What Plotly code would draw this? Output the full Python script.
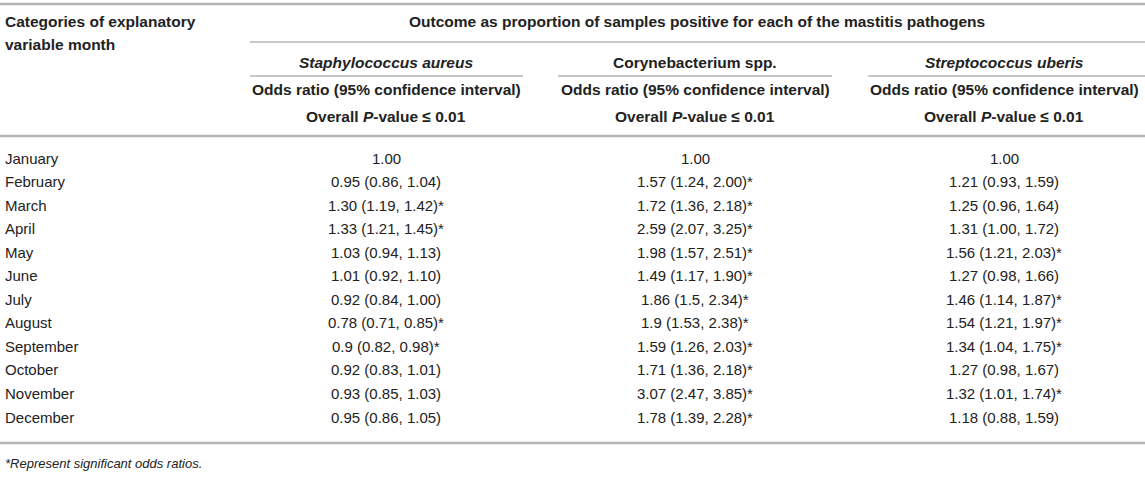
import plotly.graph_objects as go

months = ["January", "February", "March", "April", "May", "June", "July",
          "August", "September", "October", "November", "December"]
staph = ["1.00", "0.95 (0.86, 1.04)", "1.30 (1.19, 1.42)*", "1.33 (1.21, 1.45)*",
         "1.03 (0.94, 1.13)", "1.01 (0.92, 1.10)", "0.92 (0.84, 1.00)",
         "0.78 (0.71, 0.85)*", "0.9 (0.82, 0.98)*", "0.92 (0.83, 1.01)",
         "0.93 (0.85, 1.03)", "0.95 (0.86, 1.05)"]
coryne = ["1.00", "1.57 (1.24, 2.00)*", "1.72 (1.36, 2.18)*", "2.59 (2.07, 3.25)*",
          "1.98 (1.57, 2.51)*", "1.49 (1.17, 1.90)*", "1.86 (1.5, 2.34)*",
          "1.9 (1.53, 2.38)*", "1.59 (1.26, 2.03)*", "1.71 (1.36, 2.18)*",
          "3.07 (2.47, 3.85)*", "1.78 (1.39, 2.28)*"]
strep = ["1.00", "1.21 (0.93, 1.59)", "1.25 (0.96, 1.64)", "1.31 (1.00, 1.72)",
         "1.56 (1.21, 2.03)*", "1.27 (0.98, 1.66)", "1.46 (1.14, 1.87)*",
         "1.54 (1.21, 1.97)*", "1.34 (1.04, 1.75)*", "1.27 (0.98, 1.67)",
         "1.32 (1.01, 1.74)*", "1.18 (0.88, 1.59)"]
pathogens = ["<i>Staphylococcus aureus</i>", "Corynebacterium spp.",
             "<i>Streptococcus uberis</i>"]
first_header = ["Categories of explanatory", "variable month"]
span_header = "Outcome as proportion of samples positive for each of the mastitis pathogens"
sub_header1 = "Odds ratio (95% confidence interval)"
sub_header2 = "Overall <i>P</i>-value \u2264 0.01"
footnote = "*Represent significant odds ratios."

W, H = 1145, 499
FONT = "Liberation Sans, Arial, Helvetica, sans-serif"
TXT = "#222222"
LINE = "#b4b4b4"
HS, BS = 15.5, 15

# layout geometry
col_centers = [386, 695, 1004]
col_spans = [(250, 523), (558, 832), (868, 1145)]
row_y0, row_dy = 158, 23.55

fig = go.Figure()
fig.add_trace(go.Scatter(x=[0, W], y=[0, H], mode="markers",
                         marker=dict(opacity=0), hoverinfo="skip", showlegend=False))

ann = []
def txt(x, y, s, anchor="center", size=BS, bold=False, italic=False):
    if bold:
        s = "<b>" + s + "</b>"
    if italic:
        s = "<i>" + s + "</i>"
    ann.append(dict(x=x, y=y, xref="x", yref="y", text=s, showarrow=False,
                    xanchor=anchor, yanchor="middle",
                    font=dict(family=FONT, size=size, color=TXT)))

# header
txt(3, 21, first_header[0], anchor="left", size=HS, bold=True)
txt(3, 44, first_header[1], anchor="left", size=HS, bold=True)
txt(697, 21, span_header, size=HS, bold=True)
for c, p in zip(col_centers, pathogens):
    txt(c, 62, p, size=HS, bold=True)
    txt(c, 89, sub_header1, size=HS, bold=True)
    txt(c, 116, sub_header2, size=HS, bold=True)

# body
for i, m in enumerate(months):
    y = row_y0 + i * row_dy
    txt(3, y, m, anchor="left")
    for c, col in zip(col_centers, [staph, coryne, strep]):
        txt(c, y, col[i])

txt(3, 463, footnote, anchor="left", size=13, italic=True)

shapes = []
def hline(x0, x1, y, w=2):
    shapes.append(dict(type="line", xref="x", yref="y", x0=x0, x1=x1, y0=y, y1=y,
                       line=dict(color=LINE, width=w)))
hline(0, W, 4, 2.5)
hline(col_spans[0][0], W, 42, 1.5)
for a, b in col_spans:
    hline(a, b, 76, 1.5)
hline(0, W, 136, 2.5)
hline(0, W, 443, 2.5)

fig.update_layout(
    width=W, height=H, margin=dict(l=0, r=0, t=0, b=0),
    paper_bgcolor="white", plot_bgcolor="white",
    xaxis=dict(range=[0, W], visible=False, fixedrange=True),
    yaxis=dict(range=[H, 0], visible=False, fixedrange=True),
    annotations=ann, shapes=shapes, showlegend=False,
)
fig.write_html("out.html", config={"displayModeBar": False},
               post_script="document.body.style.margin='0';document.body.style.overflow='hidden';")
